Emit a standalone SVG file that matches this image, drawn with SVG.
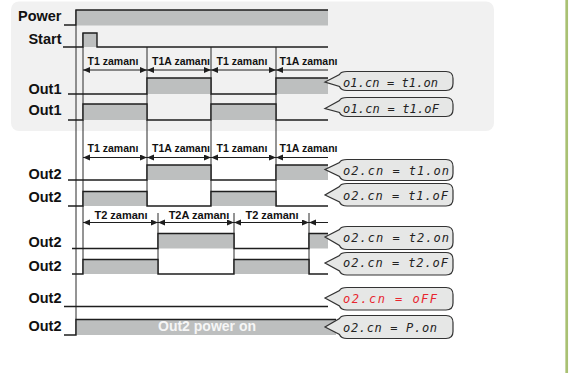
<svg xmlns="http://www.w3.org/2000/svg" width="571" height="373" viewBox="0 0 571 373">
<style>
.sig{fill:none;stroke:#1e1e1e;stroke-width:1.4;stroke-linejoin:miter}
.hi{fill:#bdbfbf}
.guide{stroke:#2a2a2a;stroke-width:1;fill:none}
.dim{stroke:#1e1e1e;stroke-width:1;fill:none}
.both{marker-start:url(#arr);marker-end:url(#arr)}
.one{marker-start:url(#arr)}
.lbl{font-family:"Liberation Sans",Arial,sans-serif;font-weight:bold;font-size:14.5px;fill:#111;text-anchor:end}
.tl{font-family:"Liberation Sans",Arial,sans-serif;font-weight:bold;font-size:10.5px;fill:#111;text-anchor:middle}
.tl2{font-size:11px}
.bub{fill:#e6e7e6;stroke:#333;stroke-width:1.2}
.seg{font-family:"DejaVu Sans Mono","Liberation Mono",monospace;font-style:italic;font-size:12px;fill:#222}
.red{fill:#e8262f}
.pw{font-family:"Liberation Sans",Arial,sans-serif;font-weight:bold;font-size:14px;fill:#f6f6f6;text-anchor:middle}
</style>
<defs>
<marker id="arr" markerUnits="userSpaceOnUse" markerWidth="8" markerHeight="7" refX="7" refY="3" orient="auto-start-reverse">
<path d="M0,0 L7,3 L0,6 Z" fill="#1e1e1e"/>
</marker>
</defs>
<rect width="571" height="373" fill="#ffffff"/>
<rect id="panel" x="11" y="1.5" width="483" height="129.5" rx="8" fill="#f1f1f1"/>
<line id="green-bar" x1="566.7" y1="0" x2="566.7" y2="373" stroke="#a9c173" stroke-width="2.7"/>

<g id="connectors">
<line class="guide" x1="76" y1="10" x2="76" y2="335"/>
<line class="guide" x1="83" y1="33" x2="83" y2="274"/>
<line class="guide" x1="147" y1="47" x2="147" y2="206"/>
<line class="guide" x1="211" y1="47" x2="211" y2="206"/>
<line class="guide" x1="276" y1="47" x2="276" y2="206"/>
<line class="guide" x1="158" y1="213" x2="158" y2="274"/>
<line class="guide" x1="234" y1="213" x2="234" y2="274"/>
<line class="guide" x1="309" y1="213" x2="309" y2="274"/>
<line class="dim both" x1="83" y1="70" x2="147" y2="70"/>
<line class="dim both" x1="147" y1="70" x2="211" y2="70"/>
<line class="dim both" x1="211" y1="70" x2="276" y2="70"/>
<line class="dim one" x1="276" y1="70" x2="328" y2="70"/>
<line class="dim both" x1="83" y1="157.5" x2="147" y2="157.5"/>
<line class="dim both" x1="147" y1="157.5" x2="211" y2="157.5"/>
<line class="dim both" x1="211" y1="157.5" x2="276" y2="157.5"/>
<line class="dim one" x1="276" y1="157.5" x2="328" y2="157.5"/>
<line class="dim both" x1="83" y1="222.5" x2="158" y2="222.5"/>
<line class="dim both" x1="158" y1="222.5" x2="234" y2="222.5"/>
<line class="dim both" x1="234" y1="222.5" x2="309" y2="222.5"/>
<line class="dim one" x1="309" y1="222.5" x2="328" y2="222.5"/>
</g>

<g id="time-labels">
<text class="tl" x="113" y="65">T1 zamanı</text>
<text class="tl" x="181" y="65">T1A zamanı</text>
<text class="tl" x="242" y="65">T1 zamanı</text>
<text class="tl" x="308.5" y="65">T1A zamanı</text>
<text class="tl" x="113" y="152">T1 zamanı</text>
<text class="tl" x="181" y="152">T1A zamanı</text>
<text class="tl" x="242" y="152">T1 zamanı</text>
<text class="tl" x="308.5" y="152">T1A zamanı</text>
<text class="tl tl2" x="121" y="218.5">T2 zamanı</text>
<text class="tl tl2" x="199" y="218.5">T2A zamanı</text>
<text class="tl tl2" x="272" y="218.5">T2 zamanı</text>
</g>

<g id="power">
<text class="lbl" x="61.5" y="20.7">Power</text>
<rect class="hi" x="76" y="10" width="252" height="15.5"/>
<polyline class="sig" points="64,25 76,25 76,10 328,10"/>
</g>
<g id="start">
<text class="lbl" x="61.5" y="44.3">Start</text>
<rect class="hi" x="83" y="33" width="14" height="14"/>
<polyline class="sig" points="63,47 83,47 83,33 97,33 97,47 328,47"/>
</g>
<g id="out1-t1on">
<text class="lbl" x="61.5" y="94.3">Out1</text>
<rect class="hi" x="147" y="78" width="64" height="16"/>
<rect class="hi" x="276" y="78" width="52" height="16"/>
<polyline class="sig" points="68,94 147,94 147,78 211,78 211,94 276,94 276,78 328,78"/>
</g>
<g id="out1-t1of">
<text class="lbl" x="61.5" y="115">Out1</text>
<rect class="hi" x="83" y="104" width="64" height="16"/>
<rect class="hi" x="211" y="104" width="65" height="16"/>
<polyline class="sig" points="68,120 83,120 83,104 147,104 147,120 211,120 211,104 276,104 276,120 328,120"/>
</g>
<g id="out2-t1on">
<text class="lbl" x="61.5" y="179">Out2</text>
<rect class="hi" x="147" y="165" width="64" height="15"/>
<rect class="hi" x="276" y="165" width="52" height="15"/>
<polyline class="sig" points="68,180 147,180 147,165 211,165 211,180 276,180 276,165 328,165"/>
</g>
<g id="out2-t1of">
<text class="lbl" x="61.5" y="201.5">Out2</text>
<rect class="hi" x="83" y="191.5" width="64" height="14.5"/>
<rect class="hi" x="211" y="191.5" width="65" height="14.5"/>
<polyline class="sig" points="68,206 83,206 83,191.5 147,191.5 147,206 211,206 211,191.5 276,191.5 276,206 328,206"/>
</g>
<g id="out2-t2on">
<text class="lbl" x="61.5" y="246.5">Out2</text>
<rect class="hi" x="158" y="233.5" width="76" height="15"/>
<rect class="hi" x="309" y="233.5" width="19" height="15"/>
<polyline class="sig" points="72,248.5 158,248.5 158,233.5 234,233.5 234,248.5 309,248.5 309,233.5 328,233.5"/>
</g>
<g id="out2-t2of">
<text class="lbl" x="61.5" y="271">Out2</text>
<rect class="hi" x="83" y="259.5" width="75" height="14.5"/>
<rect class="hi" x="234" y="259.5" width="75" height="14.5"/>
<polyline class="sig" points="72,274 83,274 83,259.5 158,259.5 158,274 234,274 234,259.5 309,259.5 309,274 328,274"/>
</g>
<g id="out2-off">
<text class="lbl" x="61.5" y="303">Out2</text>
<polyline class="sig" points="64,306.5 328,306.5"/>
</g>
<g id="out2-pon">
<text class="lbl" x="61.5" y="331">Out2</text>
<rect class="hi" x="76" y="319.5" width="260" height="15.5"/>
<polyline class="sig" points="64,335 76,335 76,319.5 336,319.5"/>
<text class="pw" x="207" y="331">Out2 power on</text>
</g>

<g id="callout-1">
<path class="bub" d="M347,71.5 H446 Q453,71.5 453,78.5 V83.5 Q453,90.5 446,90.5 H347 Q341,90.5 339.5,86.5 L325,82 L339.5,74.5 Q341,71.5 347,71.5 Z"/>
<text class="seg" x="343" y="86.5" textLength="95" lengthAdjust="spacing">o1.cn = t1.on</text>
</g>
<g id="callout-2">
<path class="bub" d="M347,97.5 H446 Q453,97.5 453,104.5 V109.5 Q453,116.5 446,116.5 H347 Q341,116.5 339.5,112.5 L325,108.5 L339.5,100.5 Q341,97.5 347,97.5 Z"/>
<text class="seg" x="343" y="112.5" textLength="96" lengthAdjust="spacing">o1.cn = t1.oF</text>
</g>
<g id="callout-3">
<path class="bub" d="M347,159.5 H446 Q453,159.5 453,166.5 V173.5 Q453,180.5 446,180.5 H347 Q341,180.5 339.5,176.5 L325,169.5 L339.5,162.5 Q341,159.5 347,159.5 Z"/>
<text class="seg" x="343" y="175" textLength="106" lengthAdjust="spacing">o2.cn = t1.on</text>
</g>
<g id="callout-4">
<path class="bub" d="M347,183.5 H446 Q453,183.5 453,190.5 V199 Q453,206 446,206 H347 Q341,206 339.5,202 L325,195 L339.5,186.5 Q341,183.5 347,183.5 Z"/>
<text class="seg" x="343" y="200" textLength="105" lengthAdjust="spacing">o2.cn = t1.oF</text>
</g>
<g id="callout-5">
<path class="bub" d="M347,226.5 H446 Q453,226.5 453,233.5 V242.5 Q453,249.5 446,249.5 H347 Q341,249.5 339.5,245.5 L325,237 L339.5,229.5 Q341,226.5 347,226.5 Z"/>
<text class="seg" x="343" y="241.5" textLength="106" lengthAdjust="spacing">o2.cn = t2.on</text>
</g>
<g id="callout-6">
<path class="bub" d="M347,252.5 H446 Q453,252.5 453,259.5 V268 Q453,275 446,275 H347 Q341,275 339.5,271 L325,263 L339.5,255.5 Q341,252.5 347,252.5 Z"/>
<text class="seg" x="343" y="267" textLength="105" lengthAdjust="spacing">o2.cn = t2.oF</text>
</g>
<g id="callout-7">
<path class="bub" d="M347,287.5 H446 Q453,287.5 453,294.5 V303 Q453,310 446,310 H347 Q341,310 339.5,306 L325,298 L339.5,290.5 Q341,287.5 347,287.5 Z"/>
<text class="seg red" x="343" y="303" textLength="94" lengthAdjust="spacing">o2.cn = oFF</text>
</g>
<g id="callout-8">
<path class="bub" d="M347,315.5 H446 Q453,315.5 453,322.5 V331.5 Q453,338.5 446,338.5 H347 Q341,338.5 339.5,334.5 L325,327 L339.5,318.5 Q341,315.5 347,315.5 Z"/>
<text class="seg" x="343" y="331.5" textLength="94" lengthAdjust="spacing">o2.cn = P.on</text>
</g>
</svg>
